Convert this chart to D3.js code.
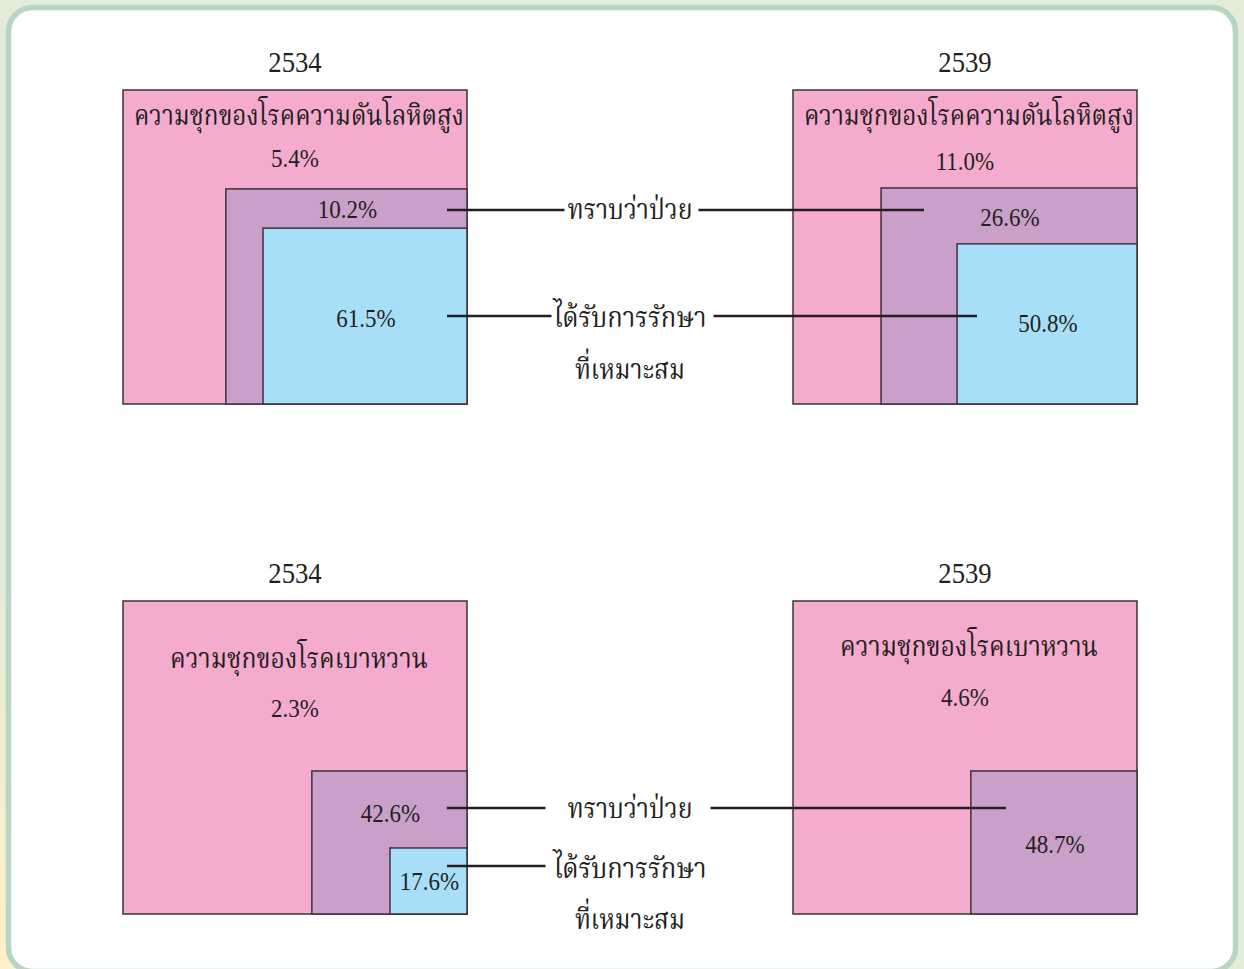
<!DOCTYPE html>
<html>
<head>
<meta charset="utf-8">
<script src="https://cdn.jsdelivr.net/npm/d3@7"></script>
<style>
  html, body { margin: 0; padding: 0; background: #e3ecd9; }
  svg { display: block; }
  .num { font-family: "Liberation Serif", "DejaVu Serif", serif; fill: #231f20; }
  .thai { font-family: "Noto Serif Thai", "Noto Sans Thai", "Norasi", "Loma", "Garuda", "Kinnari", serif; fill: #231f20; }
</style>
</head>
<body>
<svg id="chart"></svg>
<script>
// ---- data ----
const years = ['2534', '2539'];
const diseases = ['ความชุกของโรคความดันโลหิตสูง', 'ความชุกของโรคเบาหวาน'];
const hypertensionPrevalence = [5.4, 11.0];
const hypertensionAware = [10.2, 26.6];
const hypertensionTreated = [61.5, 50.8];
const diabetesPrevalence = [2.3, 4.6];
const diabetesAware = [42.6, 48.7];
const diabetesTreated = [17.6, null];
const stageLabels = ['ทราบว่าป่วย', 'ได้รับการรักษา', 'ที่เหมาะสม'];

const rows = [
    { title: diseases[0], prev: hypertensionPrevalence, aware: hypertensionAware, treated: hypertensionTreated },
    { title: diseases[1], prev: diabetesPrevalence, aware: diabetesAware, treated: diabetesTreated }
];

// ---- layout (fractions of each outer square, not data) ----
const W = 1244, H = 969;
const colX = [[123, 467], [793, 1137]];
const rowY = [[90, 404], [601, 914]];
const layout = [
    [ // hypertension
        { titleDy: 35, prevDy: 77, aware: [0.299, 0.315], awareDy: 29, treated: [0.407, 0.44], treatedDy: 99 },
        { titleDy: 35, prevDy: 80, aware: [0.256, 0.312], awareDy: 38, treated: [0.477, 0.49], treatedDy: 88 }
    ],
    [ // diabetes
        { titleDy: 67, prevDy: 116, aware: [0.549, 0.543], awareDy: 51, treated: [0.776, 0.789], treatedDy: 42 },
        { titleDy: 55, prevDy: 105, aware: [0.517, 0.543], awareDy: 82, treated: null, treatedDy: 0 }
    ]
];
const titleWidths = [330, 258];
const colors = { prev: '#f5abcd', aware: '#c9a0ca', treated: '#a8dff8' };

const svg = d3.select('#chart').attr('width', W).attr('height', H);

// background + rounded panel
const defs = svg.append('defs');
const grad = defs.append('linearGradient').attr('id', 'bg')
    .attr('x1', 1).attr('y1', 0).attr('x2', 0).attr('y2', 1);
grad.append('stop').attr('offset', '0.8').attr('stop-color', '#e3ecd9');
grad.append('stop').attr('offset', '1').attr('stop-color', '#fff1c8');
svg.append('rect').attr('width', W).attr('height', H).attr('fill', 'url(#bg)');
svg.append('rect')
    .attr('x', 8.5).attr('y', 7.5).attr('width', 1227).attr('height', 964)
    .attr('rx', 24).attr('fill', '#fff')
    .attr('stroke', '#b8d5c3').attr('stroke-width', 5.5);

const fmt = v => v.toFixed(1) + '%';

// percentages: narrow and tall like the original serif digits
function numText(g, x, y, size, str) {
    return g.append('text').attr('class', 'num')
        .attr('transform', `translate(${x},${y}) scale(0.92,1)`)
        .attr('text-anchor', 'middle').attr('font-size', size)
        .text(str);
}

rows.forEach((row, r) => {
    const y = d3.scaleLinear().domain([0, 1]).range(rowY[r]);
    years.forEach((year, c) => {
        const x = d3.scaleLinear().domain([0, 1]).range(colX[c]);
        const L = layout[r][c];
        const g = svg.append('g');
        const cx = (x(0) + x(1)) / 2;

        numText(g, cx, y(0) - 18, 29, year);

        const boxes = [
            { key: 'prev', x0: 0, y0: 0 },
            { key: 'aware', x0: L.aware[0], y0: L.aware[1] }
        ];
        if (L.treated && row.treated[c] != null) boxes.push({ key: 'treated', x0: L.treated[0], y0: L.treated[1] });

        g.selectAll('rect.box').data(boxes).enter().append('rect')
            .attr('class', 'box')
            .attr('x', d => x(d.x0)).attr('y', d => y(d.y0))
            .attr('width', d => x(1) - x(d.x0)).attr('height', d => y(1) - y(d.y0))
            .attr('fill', d => colors[d.key])
            .attr('stroke', '#3b3338').attr('stroke-width', 1.5);

        g.append('text').attr('class', 'thai')
            .attr('x', cx + 4).attr('y', y(0) + L.titleDy)
            .attr('text-anchor', 'middle').attr('font-size', 29)
            .attr('textLength', titleWidths[r]).attr('lengthAdjust', 'spacingAndGlyphs')
            .text(row.title);

        numText(g, cx, y(0) + L.prevDy, 25, fmt(row.prev[c]));

        boxes.slice(1).forEach(b => {
            const bx = (x(b.x0) + x(1)) / 2 + 1;
            numText(g, bx, y(b.y0) + L[b.key + 'Dy'], 25, fmt(row[b.key][c]));
        });
    });
});

// ---- middle stage labels and connectors ----
const midX = (colX[0][1] + colX[1][0]) / 2;
const connectors = [
    { r: 0, stage: 0, ty: 219, ly: 210, x0: 447, x1: 924, gapL: 3, gapR: 6 },
    { r: 0, stage: 1, ty: 327, ly: 316, x0: 447, x1: 977, gapL: 2, gapR: 7 },
    { r: 0, stage: 2, ty: 379, ly: null },
    { r: 1, stage: 0, ty: 818, ly: 808, x0: 447, x1: 1006, gapL: 22, gapR: 18 },
    { r: 1, stage: 1, ty: 878, ly: 866, x0: 447, x1: null, gapL: 8, gapR: 0 },
    { r: 1, stage: 2, ty: 929, ly: null }
];
const stageWidths = [125, 153, 110];

connectors.forEach(d => {
    svg.append('text').attr('class', 'thai')
        .attr('x', midX).attr('y', d.ty)
        .attr('text-anchor', 'middle').attr('font-size', 29)
        .attr('textLength', stageWidths[d.stage]).attr('lengthAdjust', 'spacingAndGlyphs')
        .text(stageLabels[d.stage]);
    if (d.ly == null) return;
    const half = stageWidths[d.stage] / 2;
    svg.append('line')
        .attr('x1', d.x0).attr('x2', midX - half - d.gapL)
        .attr('y1', d.ly).attr('y2', d.ly)
        .attr('stroke', '#231f20').attr('stroke-width', 2.6);
    if (d.x1 != null) {
        svg.append('line')
            .attr('x1', midX + half + d.gapR).attr('x2', d.x1)
            .attr('y1', d.ly).attr('y2', d.ly)
            .attr('stroke', '#231f20').attr('stroke-width', 2.6);
    }
});
</script>
</body>
</html>
